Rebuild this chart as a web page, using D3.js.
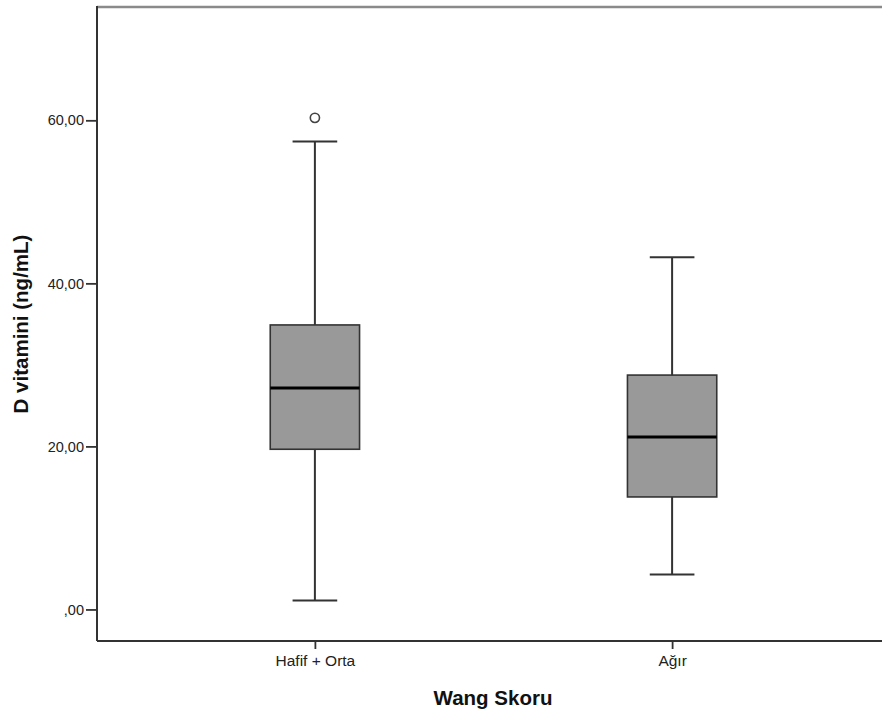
<!DOCTYPE html>
<html>
<head>
<meta charset="utf-8">
<script src="https://cdn.jsdelivr.net/npm/d3@7"></script>
<style>
  body { margin: 0; background: #fff; }
  svg { display: block; }
</style>
</head>
<body>
<div id="chart"></div>
<script>
const categories = ["Hafif + Orta", "Ağır"];
const whiskerLow = [1.1, 4.3];
const q1 = [19.65, 13.8];
const median = [27.15, 21.15];
const q3 = [34.9, 28.75];
const whiskerHigh = [57.4, 43.2];
const outliers = [[60.3], []];
const yTicks = [0, 20, 40, 60];

const W = 882, H = 712;
const margin = { top: 7, right: -8, bottom: 71, left: 97 };

const svg = d3.select("#chart").append("svg")
    .attr("width", W)
    .attr("height", H);

const x = d3.scalePoint()
    .domain(categories)
    .range([margin.left, W - margin.right])
    .padding(0.61);

const y = d3.scaleLinear()
    .domain([-3.87, 73.9])
    .range([H - margin.bottom, margin.top]);

const boxW = x.step() * 0.25;
const capW = boxW / 2;

// frame: grey top line, dark left and bottom axes
svg.append("line")
    .attr("x1", margin.left).attr("x2", W)
    .attr("y1", margin.top).attr("y2", margin.top)
    .attr("stroke", "#8a8a8a").attr("stroke-width", 2.5);

const fmt = d => {
    let s = d3.format(".2f")(d).replace(".", ",");
    return s.startsWith("0,") ? s.slice(1) : s;
};

const yAxis = svg.append("g")
    .attr("transform", `translate(${margin.left},0)`)
    .call(d3.axisLeft(y).tickValues(yTicks).tickFormat(fmt).tickSize(11).tickPadding(2));
yAxis.select(".domain").remove();
yAxis.selectAll(".tick line").attr("stroke", "#333").attr("stroke-width", 1.8);
yAxis.selectAll("text")
    .style("font-family", "'Liberation Sans', Arial, sans-serif")
    .style("font-size", "14.5px")
    .attr("fill", "#222");

const xAxis = svg.append("g")
    .attr("transform", `translate(0,${H - margin.bottom})`)
    .call(d3.axisBottom(x).tickSize(8).tickPadding(6));
xAxis.select(".domain").remove();
xAxis.selectAll(".tick line").attr("stroke", "#333").attr("stroke-width", 1.8);
xAxis.selectAll("text")
    .style("font-family", "'Liberation Sans', Arial, sans-serif")
    .style("font-size", "15.5px")
    .attr("fill", "#222");

svg.append("line")
    .attr("x1", margin.left).attr("x2", margin.left)
    .attr("y1", margin.top - 1).attr("y2", H - margin.bottom)
    .attr("stroke", "#333").attr("stroke-width", 2);
svg.append("line")
    .attr("x1", margin.left).attr("x2", W)
    .attr("y1", H - margin.bottom).attr("y2", H - margin.bottom)
    .attr("stroke", "#333").attr("stroke-width", 2);

// boxes
const boxes = svg.append("g")
    .selectAll("g")
    .data(categories.map((c, i) => ({
        cat: c, lo: whiskerLow[i], q1: q1[i], med: median[i], q3: q3[i], hi: whiskerHigh[i], out: outliers[i]
    })))
    .join("g");

boxes.append("line")
    .attr("x1", d => x(d.cat)).attr("x2", d => x(d.cat))
    .attr("y1", d => y(d.hi)).attr("y2", d => y(d.lo))
    .attr("stroke", "#333").attr("stroke-width", 2);

boxes.selectAll(".cap")
    .data(d => [d.lo, d.hi].map(v => ({ cat: d.cat, v })))
    .join("line")
    .attr("class", "cap")
    .attr("x1", d => x(d.cat) - capW / 2).attr("x2", d => x(d.cat) + capW / 2)
    .attr("y1", d => y(d.v)).attr("y2", d => y(d.v))
    .attr("stroke", "#333").attr("stroke-width", 2);

boxes.append("rect")
    .attr("x", d => x(d.cat) - boxW / 2)
    .attr("width", boxW)
    .attr("y", d => y(d.q3))
    .attr("height", d => y(d.q1) - y(d.q3))
    .attr("fill", "#999999")
    .attr("stroke", "#333").attr("stroke-width", 1.6);

boxes.append("line")
    .attr("x1", d => x(d.cat) - boxW / 2).attr("x2", d => x(d.cat) + boxW / 2)
    .attr("y1", d => y(d.med)).attr("y2", d => y(d.med))
    .attr("stroke", "#000").attr("stroke-width", 3);

boxes.selectAll(".outlier")
    .data(d => d.out.map(v => ({ cat: d.cat, v })))
    .join("circle")
    .attr("class", "outlier")
    .attr("cx", d => x(d.cat)).attr("cy", d => y(d.v))
    .attr("r", 4.6)
    .attr("fill", "#fff")
    .attr("stroke", "#444").attr("stroke-width", 1.6);

// axis titles
svg.append("text")
    .attr("transform", `translate(28,${(margin.top + H - margin.bottom) / 2}) rotate(-90)`)
    .attr("text-anchor", "middle")
    .style("font-family", "'Liberation Sans', Arial, sans-serif")
    .style("font-size", "20.5px")
    .style("font-weight", "bold")
    .attr("fill", "#111")
    .text("D vitamini (ng/mL)");

svg.append("text")
    .attr("x", 493).attr("y", 705)
    .attr("text-anchor", "middle")
    .style("font-family", "'Liberation Sans', Arial, sans-serif")
    .style("font-size", "20.5px")
    .style("font-weight", "bold")
    .attr("fill", "#111")
    .text("Wang Skoru");
</script>
</body>
</html>
